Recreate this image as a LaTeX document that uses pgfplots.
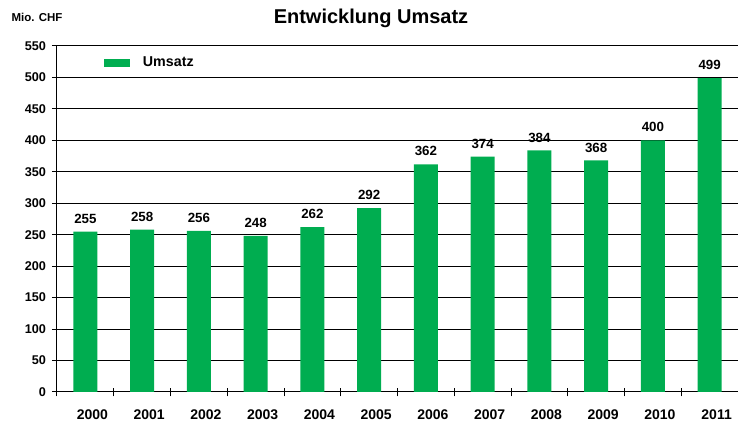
\documentclass[border=0pt]{standalone}
\usepackage{pgfplots}
\pgfplotsset{compat=1.18}
\usepackage{fontspec}
\setmainfont{Liberation Sans}
\definecolor{bargreen}{RGB}{0,173,80}
\begin{document}
\begin{tikzpicture}[x=0.75pt,y=0.75pt]
\useasboundingbox (0,0) rectangle (738,423);
\begin{axis}[
  at={(42.75pt,23.25pt)}, anchor=south west,
  scale only axis, width=510.75pt, height=259.5pt,
  xmin=-0.5, xmax=11.5, ymin=0, ymax=550,
  ybar, bar width=0.42, /pgf/bar shift=0pt,
  axis x line*=bottom, axis y line*=left,
  axis line style={-, black, line width=0.75pt},
  xtick={-0.5,0.5,...,11.5},
  xticklabels={2000,2001,2002,2003,2004,2005,2006,2007,2008,2009,2010,2011},
  x tick label as interval,
  ytick={0,50,...,550},
  ymajorgrids, major grid style={black, line width=0.75pt},
  xtick align=center, ytick align=outside,
  xtick style={black, line width=0.75pt, /pgfplots/major tick length=6.5pt},
  ytick style={black, line width=0.75pt, /pgfplots/major tick length=3.75pt},
  /pgf/number format/assume math mode=true,
  yticklabel style={font=\bfseries\fontsize{9.5}{11}\selectfont, xshift=-0.5pt},
  xticklabel style={font=\bfseries\fontsize{10.5}{12}\selectfont, yshift=-8pt, xshift=5.25pt},
  nodes near coords,
  every node near coord/.append style={font=\bfseries\fontsize{10}{12}\selectfont, inner xsep=10pt, inner ysep=1.5pt, anchor=center, yshift=9.75pt},
  legend style={at={(0.069,0.951)}, anchor=west, draw=none, fill=none, inner sep=0pt, font=\bfseries\fontsize{10.7}{12}\selectfont},
  legend image code/.code={\fill[bargreen] (0pt,-3pt) rectangle (19.5pt,3pt); \path (27pt,0pt);},
]
\addplot[fill=bargreen, draw=none] coordinates {
 (0,255) (1,258) (2,256) (3,248) (4,262) (5,292) (6,362) (7,374) (8,384) (9,368) (10,400) (11,499)
};
\addlegendentry{Umsatz}
\addplot[fill=bargreen, draw=none, forget plot, every node near coord/.append style={fill=white}] coordinates {
 (5,292)
};
\end{axis}
\node[font=\bfseries\fontsize{15}{18}\selectfont] at (371,405) {Entwicklung Umsatz};
\node[font=\bfseries\fontsize{8.6}{10}\selectfont] at (37,406) {Mio. CHF};
\end{tikzpicture}
\end{document}
